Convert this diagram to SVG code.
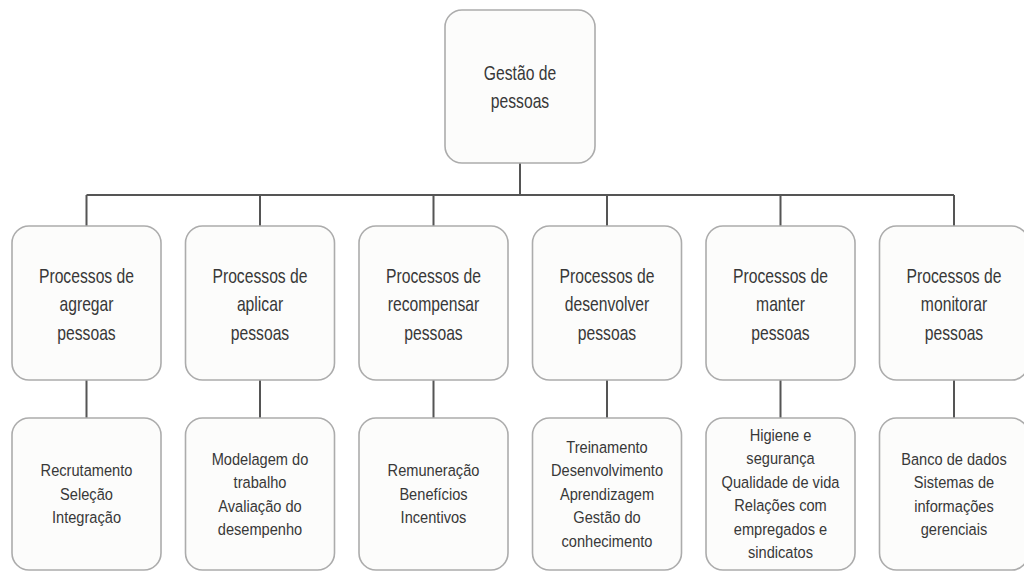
<svg xmlns="http://www.w3.org/2000/svg" width="1024" height="572" viewBox="0 0 1024 572">
<style>
.box{fill:#fcfcfb;stroke:#acacac;stroke-width:1.6}
.t1{font-family:"Liberation Sans",Arial,sans-serif;font-size:20px;fill:#383838;text-anchor:middle}
.t2{font-family:"Liberation Sans",Arial,sans-serif;font-size:17px;fill:#383838;text-anchor:middle}
.ln{stroke:#555;stroke-width:2;fill:none}
</style>
<rect width="1024" height="572" fill="#ffffff"/>
<g id="connectors" class="ln">
<path d="M520,163V195M86.5,195H954M86.5,195V226M260,195V226M433.5,195V226M607,195V226M780.5,195V226M954,195V226"/>
<path d="M86.5,380V418M260,380V418M433.5,380V418M607,380V418M780.5,380V418M954,380V418"/>
</g>
<g id="root"><rect class="box" x="445" y="10" width="150" height="153" rx="17"/>
<g class="t1" transform="scale(0.785,1)"><text x="662.42" y="80">Gestão de</text><text x="662.42" y="108.5">pessoas</text></g></g>
<g id="p1"><rect class="box" x="12" y="226" width="149" height="154" rx="17"/>
<g class="t1" transform="scale(0.785,1)"><text x="110.19" y="283">Processos de</text><text x="110.19" y="311.5">agregar</text><text x="110.19" y="340">pessoas</text></g></g>
<g id="p2"><rect class="box" x="185.5" y="226" width="149" height="154" rx="17"/>
<g class="t1" transform="scale(0.785,1)"><text x="331.21" y="283">Processos de</text><text x="331.21" y="311.5">aplicar</text><text x="331.21" y="340">pessoas</text></g></g>
<g id="p3"><rect class="box" x="359" y="226" width="149" height="154" rx="17"/>
<g class="t1" transform="scale(0.785,1)"><text x="552.23" y="283">Processos de</text><text x="552.23" y="311.5">recompensar</text><text x="552.23" y="340">pessoas</text></g></g>
<g id="p4"><rect class="box" x="532.5" y="226" width="149" height="154" rx="17"/>
<g class="t1" transform="scale(0.785,1)"><text x="773.25" y="283">Processos de</text><text x="773.25" y="311.5">desenvolver</text><text x="773.25" y="340">pessoas</text></g></g>
<g id="p5"><rect class="box" x="706" y="226" width="149" height="154" rx="17"/>
<g class="t1" transform="scale(0.785,1)"><text x="994.27" y="283">Processos de</text><text x="994.27" y="311.5">manter</text><text x="994.27" y="340">pessoas</text></g></g>
<g id="p6"><rect class="box" x="879.5" y="226" width="149" height="154" rx="17"/>
<g class="t1" transform="scale(0.785,1)"><text x="1215.29" y="283">Processos de</text><text x="1215.29" y="311.5">monitorar</text><text x="1215.29" y="340">pessoas</text></g></g>
<g id="d1"><rect class="box" x="12" y="418" width="149" height="152" rx="17"/>
<g class="t2" transform="scale(0.86,1)"><text x="100.58" y="476.5">Recrutamento</text><text x="100.58" y="500">Seleção</text><text x="100.58" y="523.5">Integração</text></g></g>
<g id="d2"><rect class="box" x="185.5" y="418" width="149" height="152" rx="17"/>
<g class="t2" transform="scale(0.86,1)"><text x="302.33" y="465">Modelagem do</text><text x="302.33" y="488.5">trabalho</text><text x="302.33" y="512">Avaliação do</text><text x="302.33" y="535.5">desempenho</text></g></g>
<g id="d3"><rect class="box" x="359" y="418" width="149" height="152" rx="17"/>
<g class="t2" transform="scale(0.86,1)"><text x="504.07" y="476.5">Remuneração</text><text x="504.07" y="500">Benefícios</text><text x="504.07" y="523.5">Incentivos</text></g></g>
<g id="d4"><rect class="box" x="532.5" y="418" width="149" height="152" rx="17"/>
<g class="t2" transform="scale(0.86,1)"><text x="705.81" y="453">Treinamento</text><text x="705.81" y="476.5">Desenvolvimento</text><text x="705.81" y="500">Aprendizagem</text><text x="705.81" y="523.5">Gestão do</text><text x="705.81" y="547">conhecimento</text></g></g>
<g id="d5"><rect class="box" x="706" y="418" width="149" height="152" rx="17"/>
<g class="t2" transform="scale(0.86,1)"><text x="907.56" y="441">Higiene e</text><text x="907.56" y="464.5">segurança</text><text x="907.56" y="488">Qualidade de vida</text><text x="907.56" y="511.5">Relações com</text><text x="907.56" y="535">empregados e</text><text x="907.56" y="558.5">sindicatos</text></g></g>
<g id="d6"><rect class="box" x="879.5" y="418" width="149" height="152" rx="17"/>
<g class="t2" transform="scale(0.86,1)"><text x="1109.30" y="465">Banco de dados</text><text x="1109.30" y="488.5">Sistemas de</text><text x="1109.30" y="512">informações</text><text x="1109.30" y="535.5">gerenciais</text></g></g>
</svg>
